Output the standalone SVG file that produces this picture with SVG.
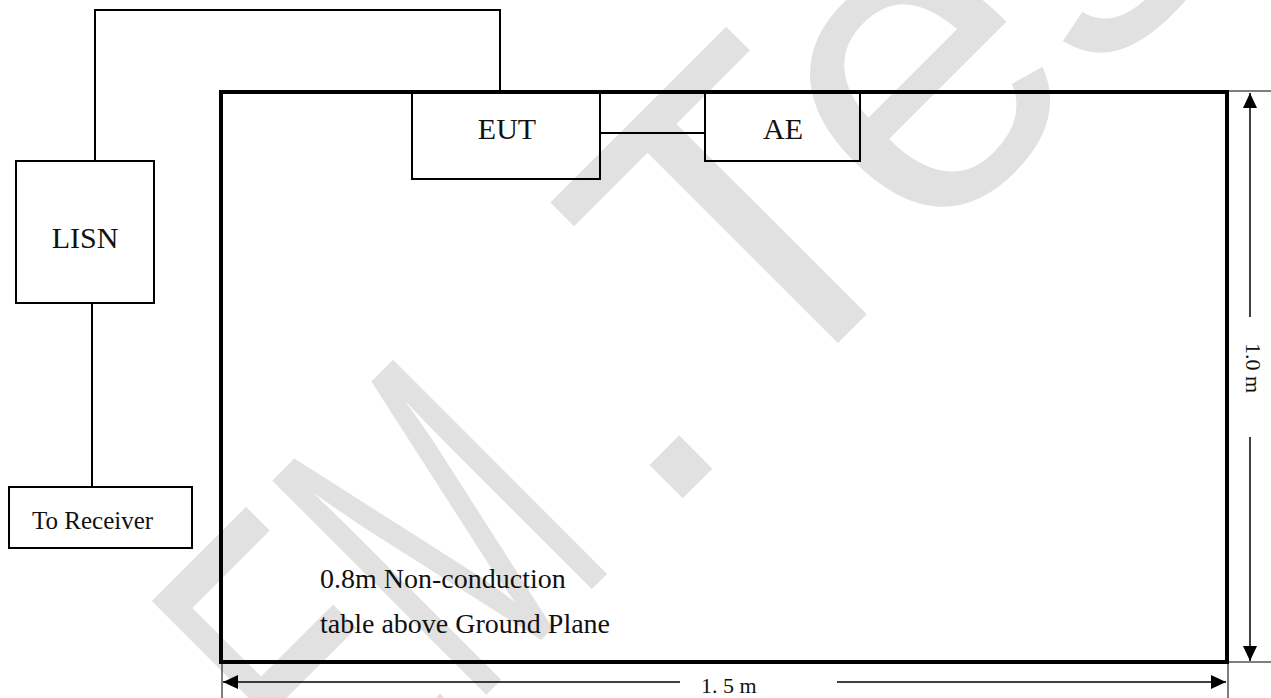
<svg xmlns="http://www.w3.org/2000/svg" width="1271" height="698" viewBox="0 0 1271 698">
  <style>
    .box { fill: none; stroke: #000; stroke-width: 2; }
    .table { fill: none; stroke: #000; stroke-width: 4; }
    .wire { fill: none; stroke: #000; stroke-width: 2; }
    .dim { fill: none; stroke: #000; stroke-width: 1.5; }
    .ext { fill: none; stroke: #000; stroke-width: 1; }
    .wm { fill: #e1e1e1; }
  </style>
  <defs>
    <marker id="arrow" viewBox="0 0 15 14" refX="15" refY="7" markerWidth="15" markerHeight="14" markerUnits="userSpaceOnUse" orient="auto">
      <path d="M0,0 L15,7 L0,14 z" fill="#000"/>
    </marker>
  </defs>
  <rect width="1271" height="698" fill="#fff"/>

  <g id="watermark" transform="translate(364.5,816.5) rotate(-45)" font-family="'Liberation Sans', Arial, sans-serif" font-size="440">
    <text class="wm" x="-19" y="0" textLength="383" lengthAdjust="spacingAndGlyphs">EM</text>
    <text class="wm" x="471 690 913 1140" y="0" text-anchor="middle">.Tes</text>
  </g>

  <g id="connectors">
    <polyline class="wire" points="95,161 95,10 500,10 500,91"/>
    <line class="wire" x1="92" y1="303" x2="92" y2="487"/>
    <line class="wire" x1="600" y1="133" x2="705" y2="133"/>
  </g>

  <g font-family="'Liberation Serif', 'Times New Roman', 'DejaVu Serif', serif" fill="#111">
    <g id="node-table">
      <rect class="table" x="221" y="92" width="1006" height="570"/>
      <text x="320" y="588" font-size="28">0.8m Non-conduction</text>
      <text x="320" y="633" font-size="28">table above Ground Plane</text>
    </g>

    <g id="node-lisn">
      <rect class="box" x="16" y="161" width="138" height="142"/>
      <text x="85" y="248" font-size="30" text-anchor="middle">LISN</text>
    </g>

    <g id="node-receiver">
      <rect class="box" x="9" y="487" width="183" height="61"/>
      <text x="32" y="529" font-size="25">To Receiver</text>
    </g>

    <g id="node-eut">
      <rect class="box" x="412" y="92" width="188" height="87"/>
      <text x="507" y="139" font-size="30" text-anchor="middle">EUT</text>
    </g>

    <g id="node-ae">
      <rect class="box" x="705" y="92" width="155" height="69"/>
      <text x="783" y="139" font-size="30" text-anchor="middle">AE</text>
    </g>

    <g id="dimensions">
      <line class="ext" x1="1229" y1="91" x2="1271" y2="91"/>
      <line class="ext" x1="1229" y1="662" x2="1271" y2="662"/>
      <line class="ext" x1="222" y1="664" x2="222" y2="698"/>
      <line class="ext" x1="1228" y1="664" x2="1228" y2="698"/>
      <line class="dim" x1="680" y1="682" x2="223" y2="682" marker-end="url(#arrow)"/>
      <line class="dim" x1="837" y1="682" x2="1226" y2="682" marker-end="url(#arrow)"/>
      <text x="701" y="693" font-size="22">1. 5 m</text>
      <line class="dim" x1="1250" y1="317" x2="1250" y2="93" marker-end="url(#arrow)"/>
      <line class="dim" x1="1250" y1="437" x2="1250" y2="661" marker-end="url(#arrow)"/>
      <text transform="translate(1245.5,343) rotate(90)" x="0" y="0" font-size="22">1.0 m</text>
    </g>
  </g>
</svg>
